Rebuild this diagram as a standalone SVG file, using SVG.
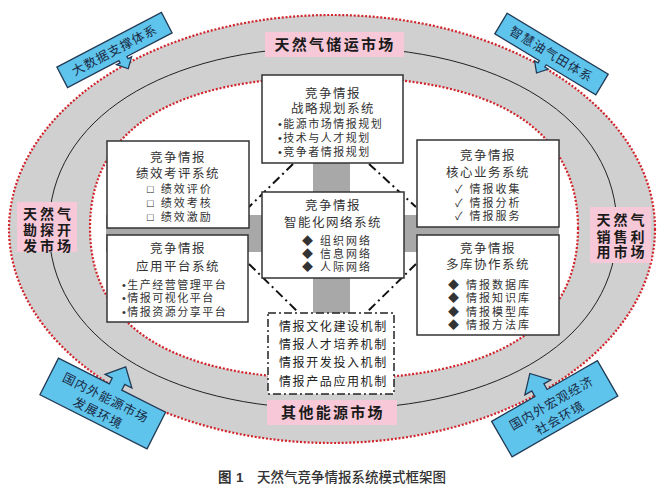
<svg xmlns="http://www.w3.org/2000/svg" width="665" height="489" viewBox="0 0 665 489">
<style>
text{font-family:'Liberation Sans','Noto Sans CJK SC','DejaVu Sans',sans-serif;fill:#333}
.ttl{font-size:12.5px;letter-spacing:1.5px;text-anchor:middle}
.itm{font-size:11px;letter-spacing:1.5px}
.itm2{font-size:11px;letter-spacing:2px}
.sq{font-weight:700;fill:#111}
.box{fill:#fff;stroke:#333;stroke-width:1.5}
.dot{fill:none;stroke:#d2232a;stroke-width:2.2;stroke-dasharray:2 1.8}
.pink{fill:#f6c8d8}
.lbl{font-size:15px;font-weight:700;letter-spacing:2.3px;text-anchor:middle;fill:#1a1a1a}
.slbl{font-size:14px;font-weight:700;letter-spacing:3px;text-anchor:middle;fill:#1a1a1a}
.arw{fill:#5ec4ec;stroke:#223a55;stroke-width:1.3}
.atx{font-size:12.5px;letter-spacing:1px;text-anchor:middle;fill:#1a2a45}
.bar{fill:#a8a8a8}
.dd{fill:none;stroke:#111;stroke-width:2;stroke-dasharray:9 4 2 4}
.mech{font-size:12px;letter-spacing:1.6px;fill:#222}
</style>
<rect width="665" height="489" fill="#fff"/>
<g id="band">
<ellipse cx="332" cy="229" rx="323" ry="214" fill="#d0d0d0"/>
<path d="M578,228 C578,327.66 495.04,379 334,379 C172.96,379 90,327.66 90,228 C90,128.34 172.96,77 334,77 C495.04,77 578,128.34 578,228 Z" fill="#fff"/>
<path d="M617,228 C617,336.6 503.4,409 333,409 C162.6,409 49,336.6 49,228 C49,119.4 162.6,47 333,47 C503.4,47 617,119.4 617,228 Z" fill="none" stroke="#222" stroke-width="1"/>
<ellipse class="dot" cx="332" cy="229" rx="323" ry="214"/>
<path class="dot" d="M578,228 C578,327.66 495.04,379 334,379 C172.96,379 90,327.66 90,228 C90,128.34 172.96,77 334,77 C495.04,77 578,128.34 578,228 Z"/>
</g>
<g id="market-top"><rect class="pink" x="265" y="32" width="139" height="25"/><text class="lbl" x="335" y="50">天然气储运市场</text></g>
<g id="market-bottom"><rect class="pink" x="267" y="400" width="130" height="25"/><text class="lbl" x="333" y="418">其他能源市场</text></g>
<g id="market-left"><rect class="pink" x="17" y="202" width="60" height="50"/><text class="slbl" x="48.5" y="218.5">天然气</text><text class="slbl" x="48.5" y="234.5">勘探开</text><text class="slbl" x="48.5" y="250.5">发市场</text></g>
<g id="market-right"><rect class="pink" x="590" y="207" width="61" height="56"/><text class="slbl" x="622" y="225">天然气</text><text class="slbl" x="622" y="242">销售利</text><text class="slbl" x="622" y="257">用市场</text></g>
<g id="arrow-bigdata" transform="translate(114.5,50) rotate(-27.6)">
<path class="arw" d="M-59,-11.5 H59 V11.5 H8 V14 H12 L3.5,23 L-5,14 H-1 V11.5 H-59 Z"/>
<text class="atx" x="0" y="4.7">大数据支撑体系</text></g>
<g id="arrow-smart" transform="translate(551.5,54) rotate(31.1)">
<path class="arw" d="M-59,-12 H59 V12 H1 V14.5 H5 L-3,24 L-11,14.5 H-7 V12 H-59 Z"/>
<text class="atx" x="0" y="4.7">智慧油气田体系</text></g>
<g id="arrow-energy" transform="translate(102.75,403.5) rotate(26.8)">
<path class="arw" d="M-60,-20.5 H-3 V-27 H-11 L4,-43 L19,-27 H11 V-20.5 H60 V20.5 H-60 Z"/>
<text class="atx" x="0" y="-2">国内外能源市场</text><text class="atx" x="0" y="15">发展环境</text></g>
<g id="arrow-macro" transform="translate(554.75,408.75) rotate(-29.9)">
<path class="arw" d="M-61,-20.5 H-11 V-27 H-19 L-4,-43 L11,-27 H3 V-20.5 H61 V20.5 H-61 Z"/>
<text class="atx" x="0" y="-2">国内外宏观经济</text><text class="atx" x="0" y="15">社会环境</text></g>
<g id="bars">
<rect class="bar" x="313" y="160" width="37" height="155"/>
<rect class="bar" x="106" y="215" width="453" height="37"/>
</g>
<g id="connectors">
<line class="dd" x1="293" y1="164" x2="249" y2="207"/>
<line class="dd" x1="369" y1="164" x2="416" y2="207"/>
<line class="dd" x1="249" y1="264" x2="299" y2="313"/>
<line class="dd" x1="416" y1="264" x2="366" y2="313"/>
</g>
<g id="strategy">
<rect class="box" x="262" y="75" width="141" height="88"/>
<text class="ttl" x="333" y="97.5">竞争情报</text>
<text class="ttl" x="333" y="113">战略规划系统</text>
<text class="itm" x="278" y="128">•能源市场情报规划</text>
<text class="itm" x="278" y="142">•技术与人才规划</text>
<text class="itm" x="278" y="155.5">•竞争者情报规划</text>
</g>
<g id="performance">
<rect class="box" x="107" y="141" width="142" height="87"/>
<text class="ttl" x="178" y="162">竞争情报</text>
<text class="ttl" x="178" y="178">绩效考评系统</text>
<text class="itm2" x="147" y="192.5"><tspan class="sq">□</tspan> 绩效评价</text>
<text class="itm2" x="147" y="206.5"><tspan class="sq">□</tspan> 绩效考核</text>
<text class="itm2" x="147" y="220.5"><tspan class="sq">□</tspan> 绩效激励</text>
</g>
<g id="platform">
<rect class="box" x="107" y="235" width="141" height="87"/>
<text class="ttl" x="178" y="253">竞争情报</text>
<text class="ttl" x="178" y="271">应用平台系统</text>
<text class="itm" x="122" y="288.5">•生产经营管理平台</text>
<text class="itm" x="122" y="301.5">•情报可视化平台</text>
<text class="itm" x="122" y="315.5">•情报资源分享平台</text>
</g>
<g id="network">
<rect class="box" x="262" y="192" width="142" height="86"/>
<text class="ttl" x="333" y="210">竞争情报</text>
<text class="ttl" x="333" y="227">智能化网络系统</text>
<text class="itm2" x="302" y="244.5">◆ 组织网络</text>
<text class="itm2" x="302" y="257.5">◆ 信息网络</text>
<text class="itm2" x="302" y="271">◆ 人际网络</text>
</g>
<g id="core">
<rect class="box" x="417" y="140" width="142" height="87"/>
<text class="ttl" x="488" y="160">竞争情报</text>
<text class="ttl" x="488" y="177">核心业务系统</text>
<text class="itm2" x="455" y="192.5">✓ 情报收集</text>
<text class="itm2" x="455" y="206.5">✓ 情报分析</text>
<text class="itm2" x="455" y="219.5">✓ 情报服务</text>
</g>
<g id="database">
<rect class="box" x="417" y="235" width="142" height="100"/>
<text class="ttl" x="488" y="253">竞争情报</text>
<text class="ttl" x="488" y="269">多库协作系统</text>
<text class="itm2" x="448" y="288.5">◆ 情报数据库</text>
<text class="itm2" x="448" y="301.5">◆ 情报知识库</text>
<text class="itm2" x="448" y="315.5">◆ 情报模型库</text>
<text class="itm2" x="448" y="328.5">◆ 情报方法库</text>
</g>
<g id="mechanism">
<rect x="268" y="313" width="126" height="81" fill="#fff" stroke="#222" stroke-width="1.5" stroke-dasharray="8 3 2 3"/>
<text class="mech" x="279" y="330.5">情报文化建设机制</text>
<text class="mech" x="279" y="348.5">情报人才培养机制</text>
<text class="mech" x="279" y="366.5">情报开发投入机制</text>
<text class="mech" x="279" y="385.5">情报产品应用机制</text>
</g>
<g id="caption">
<text x="218" y="482" style="font-size:13.5px;font-weight:700">图</text>
<text x="236" y="482" style="font-size:13.5px;font-weight:700">1</text>
<text x="257" y="482" style="font-size:13.5px;font-weight:500">天然气竞争情报系统模式框架图</text>
</g>
</svg>
